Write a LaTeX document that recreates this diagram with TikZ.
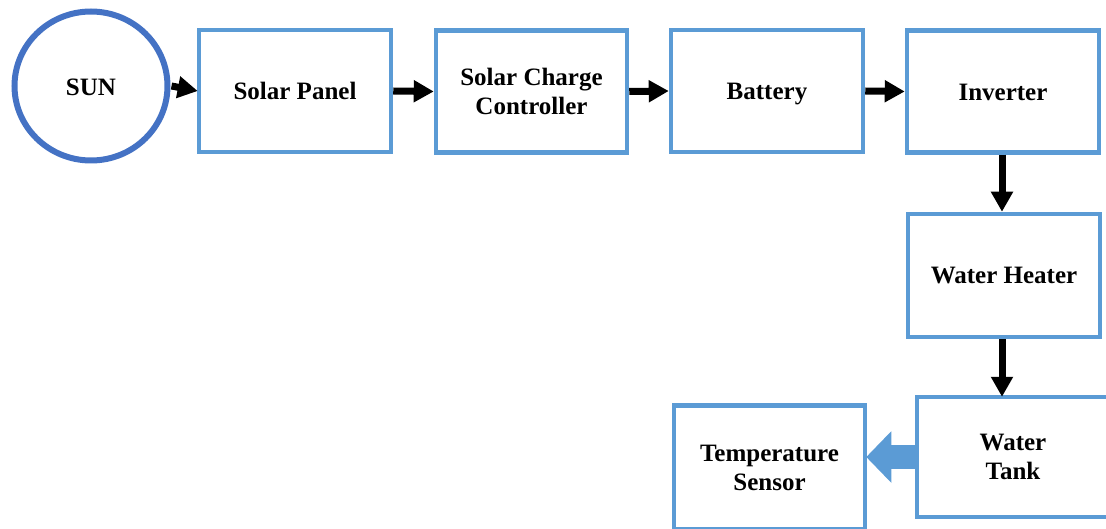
\documentclass[tikz,border=0pt]{standalone}
\usepackage{fontspec}
\setmainfont{Liberation Serif}
\usetikzlibrary{arrows.meta,shapes.geometric}
\definecolor{boxblue}{HTML}{5B9BD5}
\definecolor{sunblue}{HTML}{4472C4}
\begin{document}
\begin{tikzpicture}[x=1pt,y=-1pt,
  every node/.style={font=\bfseries\fontsize{25}{29}\selectfont, align=center, text=black},
  oneline/.style={text height=18pt, text depth=0pt},
  blockbox/.style={draw=boxblue, line width=4.5pt, fill=white, minimum width=192pt, minimum height=122pt, inner sep=0pt},
  openbox/.style={fill=white, minimum width=192pt, minimum height=122pt, inner sep=0pt},
  sunshape/.style={ellipse, draw=sunblue, line width=6pt, fill=white, minimum width=153pt, minimum height=149pt, inner sep=0pt},
  flow/.style={line width=7pt, -{Triangle[length=20pt,width=21pt]}},
  bigflow/.style={line width=24pt, boxblue, -{Triangle[length=25pt,width=50pt]}}
]
\useasboundingbox (0,0) rectangle (1106,529);
\clip (0,0) rectangle (1106,529);
\node[sunshape, oneline, text height=19pt] (sun) at (91,86) {SUN};
\node[blockbox, oneline] (sp) at (295,91) {Solar Panel};
\node[blockbox, minimum width=191pt] (scc) at (531.5,91.5) {Solar Charge\\Controller};
\node[blockbox, oneline] (bat) at (767,91) {Battery};
\node[blockbox, oneline] (inv) at (1003,91.5) {Inverter};
\node[blockbox, oneline, minimum height=123pt, text height=17pt] (wh) at (1004,275.5) {Water Heater};
\node[openbox, minimum width=200pt, minimum height=120pt] (wt) at (1013,457) {\rule{0pt}{4pt}Water\\Tank};
\draw[boxblue, line width=4.5pt] ([xshift=20pt]wt.north east) -- ([xshift=4pt]wt.north west) -- ([xshift=4pt]wt.south west) -- ([xshift=20pt]wt.south east);
\node[blockbox, minimum width=191pt, minimum height=124pt] (ts) at (769.5,467.5) {Temperature\\Sensor};
\draw[flow] ([xshift=1pt]sun.east) -- ([xshift=1pt]sp.west);
\draw[flow] (sp.east) -- (scc.west);
\draw[flow] (scc.east) -- (bat.west);
\draw[flow] (bat.east) -- (inv.west);
\draw[flow] ([xshift=-1pt]inv.south) -- ([xshift=-1pt]inv.south |- wh.north);
\draw[flow] ([xshift=-2pt]wh.south) -- ([xshift=-2pt]wh.south |- wt.north);
\coordinate (tip) at ([xshift=-1pt]ts.east |- wt.west);
\draw[bigflow] ([xshift=2pt]wt.west) -- (tip);
\end{tikzpicture}
\end{document}
